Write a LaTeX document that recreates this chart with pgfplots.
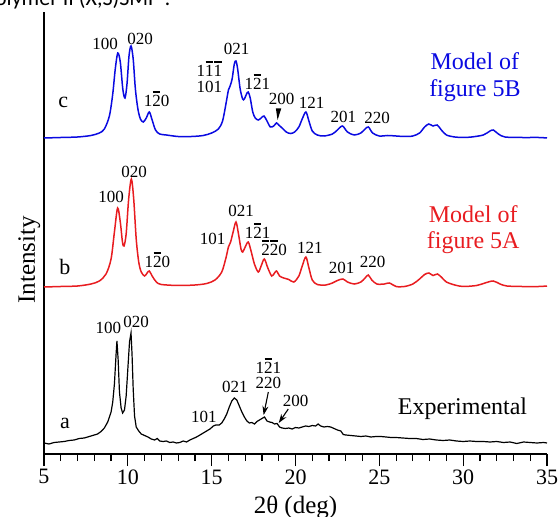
\documentclass[border=0pt]{standalone}
\usepackage{fontspec}
\setmainfont{Liberation Serif}
\newfontfamily\capfont{Carlito}
\usepackage{pgfplots}
\usepackage{pgfplotstable}
\pgfplotsset{compat=1.18}
\usetikzlibrary{arrows.meta}
\definecolor{cblue}{RGB}{10,10,225}
\definecolor{cred}{RGB}{232,28,32}
% bar over a digit (Miller index)
\newcommand{\ob}[1]{\makebox[0pt][l]{\hspace{0.03em}\rule[0.84em]{0.44em}{0.075em}}#1}
\tikzset{
  lab/.style={font=\fontsize{17}{19}\selectfont, anchor=base, inner sep=0pt},
  big/.style={font=\fontsize{24}{27}\selectfont, anchor=base, inner sep=0pt},
  letr/.style={font=\fontsize{22}{24}\selectfont, anchor=base, inner sep=0pt},
}

% curve c: model of figure 5B (offset units)
\pgfplotstableread{
x y
5 316
6 316.5
7 317
7.8 318.5
8.3 321
8.6 325
8.9 338
9.1 360
9.25 385
9.4 401
9.55 392
9.7 365
9.83 356
9.95 370
10.07 398
10.19 408
10.32 395
10.45 365
10.6 345
10.75 335
10.92 332
11.1 336
11.28 342
11.45 334
11.65 324
11.9 320
12.3 319
13 317.5
13.8 317.5
14.5 318.5
15.0 321
15.4 325
15.65 333
15.85 350
16.0 364
16.1 368
16.22 375
16.35 390
16.45 393
16.55 385
16.7 365
16.85 355
16.95 355
17.08 360
17.18 362
17.3 356
17.45 342
17.6 336
17.78 334
17.95 336
18.12 338
18.3 333
18.5 327
18.7 328
18.87 331
19.0 329
19.2 326
19.45 322
19.7 320.5
19.95 322
20.2 327
20.4 335
20.62 342
20.8 333
21.0 323
21.3 319
21.7 318
22.2 320
22.5 324
22.8 328
23.1 322
23.5 319
23.9 321
24.15 325
24.35 327
24.6 321
25.0 318
25.5 318.5
26 318
26.5 317.5
27.0 318
27.4 321
27.7 327
27.95 330
28.2 328
28.45 329
28.7 324
29.0 319
29.5 317
30.0 316.5
30.5 317
31.2 319
31.6 323
31.8 324
32.1 320
32.5 317
33.5 316.5
34.5 316.5
35 316
}\curvec

% curve b: model of figure 5A
\pgfplotstableread{
x y
5 167
6 167.5
7 168
7.8 170
8.3 173
8.7 180
9.0 195
9.2 222
9.39 246
9.55 232
9.68 212
9.77 208
9.9 220
10.05 255
10.21 275
10.35 255
10.5 215
10.65 192
10.8 182
11.0 178
11.15 181
11.28 183
11.45 178
11.7 172
12.0 169.5
13 168.5
14 169
14.7 170.5
15.2 174
15.6 182
15.85 196
16.0 207
16.13 212
16.28 222
16.45 232
16.6 220
16.75 205
16.85 202
17.0 207
17.18 212
17.35 203
17.55 190
17.78 182
17.95 188
18.14 195
18.35 186
18.58 178
18.75 181
18.87 183
19.05 178
19.3 176
19.6 174.5
19.9 172
20.2 178
20.4 188
20.62 197
20.8 186
21.0 174
21.3 169.5
21.8 169
22.2 171
22.5 173.5
22.83 175
23.1 172
23.5 170
23.9 172
24.15 176
24.34 179
24.55 174
24.85 170
25.3 170
25.6 171
26.0 167.5
26.5 167.5
27.0 170
27.4 175
27.7 179.5
27.96 181
28.2 178.5
28.47 180
28.75 176
29.0 172
29.5 169
30.0 167.5
30.8 168.5
31.3 171
31.79 173
32.2 170
32.6 168
33.5 167.5
34.5 167.5
35 168
}\curveb

% curve a: experimental
\pgfplotstableread{
x y
5 11
5.3 10
5.6 11.5
5.9 12
6.2 12.5
6.5 13.5
6.8 14
7.1 15.5
7.4 16
7.7 17.5
8.0 19
8.2 20
8.4 22.5
8.6 26
8.8 32
9.0 42
9.1 52
9.2 70
9.3 100
9.35 113
9.42 95
9.5 62
9.6 46
9.69 41
9.8 44
9.9 58
10.0 85
10.1 112
10.19 121
10.25 100
10.32 65
10.4 38
10.5 27
10.65 23
10.8 20
11.0 18.5
11.2 17
11.4 15
11.6 14
11.75 15.5
11.9 13
12.1 12.5
12.3 13
12.5 11.5
12.7 12
12.9 11
13.1 11.5
13.3 13
13.5 12
13.7 14
13.9 15.5
14.1 17
14.3 19
14.5 21
14.7 23
14.9 25
15.1 28
15.25 29
15.45 29
15.6 31
15.75 35
15.9 40
16.05 47
16.2 53
16.35 56
16.5 54
16.65 48
16.8 42
16.95 37
17.1 33
17.25 31
17.4 31.5
17.55 30
17.7 32.5
17.85 34
18.0 35.5
18.15 37
18.3 33
18.45 32
18.6 31.5
18.75 30
18.9 30.5
19.05 27
19.2 26
19.4 25.5
19.6 26
19.8 25
20.0 26.5
20.2 26
20.4 27
20.6 28
20.8 27.5
21.0 28.5
21.2 28
21.35 30
21.5 28
21.7 27
21.9 27.5
22.1 27
22.3 25.5
22.5 24
22.7 23
22.85 19.5
23.0 19
23.3 18.5
23.6 18
23.9 17.5
24.2 18
24.5 17
24.8 17.5
25.1 17.5
25.4 17
25.7 16.5
26.0 16.5
26.4 16
26.8 15.5
27.2 15.5
27.6 14.5
28.0 15
28.4 14
28.8 13.5
29.2 14
29.6 13
30.0 12.5
30.4 13
30.8 12.5
31.2 12.5
31.6 12
32.0 12.5
32.4 11.5
32.8 12
33.2 10.5
33.6 12
34.0 11.5
34.4 11
34.8 11.5
35 11
}\curvea

\begin{document}
\begin{tikzpicture}
\begin{axis}[
    at={(44pt,63pt)}, anchor=south west,
    scale only axis, width=503pt, height=442pt,
    xmin=5, xmax=35, ymin=0, ymax=442,
    axis x line=bottom, axis y line=left,
    axis line style={-, line width=1.3pt},
    xtick={5,10,...,35}, minor x tick num=4, ytick=\empty,
    tick align=outside, major tick length=12pt, minor tick length=7pt,
    tick style={black, line width=1.2pt},
    /pgf/number format/assume math mode=true,
    tick label style={font=\fontsize{22}{24}\selectfont},
    xlabel={2θ (deg)},
    xlabel style={font=\fontsize{25}{28}\selectfont, at={(axis description cs:0.5,0)}, anchor=base, yshift=-59pt},
    ylabel={Intensity},
    ylabel style={font=\fontsize{25}{28}\selectfont, at={(axis description cs:0,0.439)}, anchor=base, yshift=9pt},
    clip=false,
]
\addplot[cblue, line width=1.5pt, smooth, tension=0.5] table {\curvec};
\addplot[cred, line width=1.5pt, smooth, tension=0.5] table {\curveb};
\addplot[black, line width=1.2pt] table {\curvea};

% labels curve c
\node[letr] at (axis cs:6.15,346) {c};
\node[lab] at (axis cs:8.64,404) {100};
\node[lab] at (axis cs:10.74,409) {020};
\node[lab] at (axis cs:11.72,347) {1\ob{2}0};
\node[lab] at (axis cs:14.86,377) {1\ob{1}\ob{1}};
\node[lab] at (axis cs:14.86,361) {101};
\node[lab] at (axis cs:16.49,399) {021};
\node[lab] at (axis cs:17.72,364) {1\ob{2}1};
\node[lab] at (axis cs:19.17,349) {200};
\node[lab] at (axis cs:20.96,345) {121};
\node[lab] at (axis cs:22.85,331) {201};
\node[lab] at (axis cs:24.87,330) {220};
\fill (axis cs:18.83,345.5) -- (axis cs:19.15,345.5) -- (axis cs:18.93,334) -- cycle;
\node[big, text=cblue] at (axis cs:30.7,384) {Model of};
\node[big, text=cblue] at (axis cs:30.7,357) {figure 5B};

% labels curve b
\node[letr] at (axis cs:6.25,179) {b};
\node[lab] at (axis cs:9.0,251) {100};
\node[lab] at (axis cs:10.37,276) {020};
\node[lab] at (axis cs:11.76,186) {1\ob{2}0};
\node[lab] at (axis cs:15.06,209) {101};
\node[lab] at (axis cs:16.75,237) {021};
\node[lab] at (axis cs:17.74,215) {1\ob{2}1};
\node[lab] at (axis cs:18.73,198) {\ob{2}\ob{2}0};
\node[lab] at (axis cs:20.86,200) {121};
\node[lab] at (axis cs:22.75,180) {201};
\node[lab] at (axis cs:24.6,186) {220};
\node[big, text=cred] at (axis cs:30.6,231) {Model of};
\node[big, text=cred] at (axis cs:30.6,205) {figure 5A};

% labels curve a
\node[letr] at (axis cs:6.25,26) {a};
\node[lab] at (axis cs:8.84,120) {100};
\node[lab] at (axis cs:10.49,126) {020};
\node[lab] at (axis cs:14.54,31) {101};
\node[lab] at (axis cs:16.39,61) {021};
\node[lab] at (axis cs:18.38,80) {1\ob{2}1};
\node[lab] at (axis cs:18.38,66) {220};
\node[lab] at (axis cs:20.0,47) {200};
\draw[-{Stealth[length=9pt,width=6pt]}, line width=1.1pt] (axis cs:18.38,62) -- (axis cs:18.1,39);
\draw[-{Stealth[length=9pt,width=6pt]}, line width=1.1pt] (axis cs:19.57,45) -- (axis cs:19.0,31);
\node[big] at (axis cs:29.96,39) {Experimental};
\end{axis}
\node[anchor=base west, inner sep=0pt, font=\capfont\fontsize{22}{24}\selectfont] at (-16pt,511pt) {Polymer II (X,S)SMP :};
\pgfresetboundingbox
\useasboundingbox (0pt,0pt) rectangle (560pt,517pt);
\end{tikzpicture}
\end{document}
